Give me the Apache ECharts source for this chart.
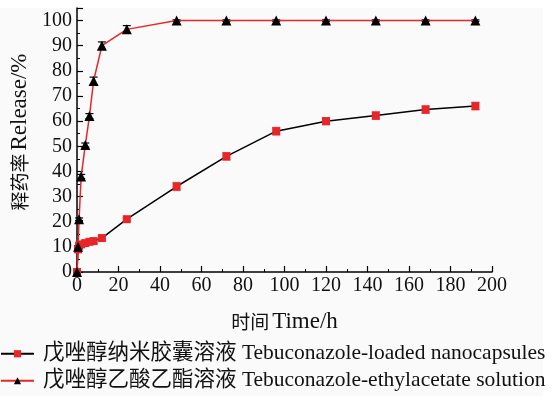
<!DOCTYPE html>
<html><head><meta charset="utf-8">
<script src="https://cdn.jsdelivr.net/npm/echarts@6/dist/echarts.min.js"></script>
<style>html,body{margin:0;padding:0;background:#fff}#c{width:560px;height:396px}</style>
</head><body><div id="c"></div>
<script>
const timeNano = [0, 0.5, 1, 2, 4, 6, 8, 12, 24, 48, 72, 96, 120, 144, 168, 192];
const releaseNano = [0, 9, 10.5, 11, 11.5, 12, 12.3, 13.5, 21, 34, 46, 56, 60, 62.2, 64.6, 66];
const errNano = [0.3, 0.8, 0.8, 0.8, 0.8, 0.8, 0.8, 0.8, 0.8, 1.6, 1.5, 1.5, 1.4, 1.5, 1.5, 1.5];
const timeEthyl = [0, 0.5, 1, 2, 4, 6, 8, 12, 24, 48, 72, 96, 120, 144, 168, 192];
const releaseEthyl = [0, 10, 21, 38, 50.5, 62, 76, 90, 96.5, 100, 100, 100, 100, 100, 100, 100];
const errEthyl = [0, 0.5, 0.5, 0.8, 0.8, 1.0, 1.5, 1.5, 1.5, 0.3, 0.3, 0.3, 0.3, 0.3, 0.3, 0.3];
const xTicks = [0, 20, 40, 60, 80, 100, 120, 140, 160, 180, 200];
const yTicks = [0, 10, 20, 30, 40, 50, 60, 70, 80, 90, 100];
const nameNano = '戊唑醇纳米胶囊溶液 Tebuconazole-loaded nanocapsules';
const nameEthyl = '戊唑醇乙酸乙酯溶液 Tebuconazole-ethylacetate solution';
const xName = ['时间', 'Time/h'];
const yName = ['释药率', 'Release/%'];

const FONT = "'Liberation Serif', 'Noto Sans CJK SC', serif";
const CJK = "'Noto Sans CJK SC', serif";
const RED = '#e8262a';
function errSeries(xs, ys, es, color) {
  return {
    type: 'custom', silent: true, z: 3,
    data: xs.map((x, i) => [x, ys[i] - es[i], ys[i] + es[i]]),
    renderItem: function (params, api) {
      const lo = api.coord([api.value(0), api.value(1)]);
      const hi = api.coord([api.value(0), api.value(2)]);
      const w = 4;
      const st = { stroke: color, lineWidth: 1.2 };
      return { type: 'group', children: [
        { type: 'line', shape: { x1: lo[0], y1: lo[1], x2: hi[0], y2: hi[1] }, style: st },
        { type: 'line', shape: { x1: lo[0] - w, y1: lo[1], x2: lo[0] + w, y2: lo[1] }, style: st },
        { type: 'line', shape: { x1: hi[0] - w, y1: hi[1], x2: hi[0] + w, y2: hi[1] }, style: st }
      ]};
    }
  };
}
const nameRich = {
  c: { fontFamily: CJK, fontSize: 19, color: '#111' },
  l: { fontFamily: FONT, fontSize: 23, color: '#111' }
};
const legendCommon = {
  orient: 'vertical', left: 0, itemWidth: 33, itemHeight: 9, padding: 0,
  textStyle: { fontFamily: FONT, fontSize: 21.5, color: '#111', padding: [0, 0, 0, 4] }
};
const chart = echarts.init(document.getElementById('c'));
chart.setOption({
  backgroundColor: '#fff',
  animation: false,
  graphic: [{ type: 'rect', shape: { x: 0, y: 8, width: 543, height: 388 }, style: { fill: '#fafafa' }, z: -10 }],
  textStyle: { fontFamily: FONT },
  grid: { left: 77, right: 68, top: 8, bottom: 124, containLabel: false, outerBoundsMode: 'none' },
  legend: [
    Object.assign({}, legendCommon, { top: 343, data: [nameNano] }),
    Object.assign({}, legendCommon, { top: 370, data: [nameEthyl] })
  ],
  xAxis: {
    type: 'value', min: xTicks[0], max: xTicks[xTicks.length - 1], interval: 20,
    name: '{c|' + xName[0] + '} {l|' + xName[1] + '}', nameLocation: 'middle', nameGap: 38,
    nameTextStyle: { rich: nameRich },
    axisLine: { lineStyle: { color: '#000', width: 1.5 } },
    axisTick: { inside: true, length: 6, lineStyle: { color: '#000', width: 1.2 } },
    minorTick: { show: true, splitNumber: 2, length: 3, lineStyle: { color: '#000', width: 1 } },
    axisLabel: { fontFamily: FONT, fontSize: 20, color: '#111', margin: 4 },
    splitLine: { show: false }
  },
  yAxis: {
    type: 'value', min: 0, max: 105, interval: 10,
    name: '{c|' + yName[0] + '} {l|' + yName[1] + '}', nameLocation: 'middle', nameGap: 44,
    nameTextStyle: { rich: nameRich, padding: [0, 0, 0, 16] },
    axisLine: { show: true, lineStyle: { color: '#000', width: 1.5 } },
    axisTick: { inside: true, length: 6, lineStyle: { color: '#000', width: 1.2 } },
    minorTick: { show: true, splitNumber: 2, length: 3, lineStyle: { color: '#000', width: 1 } },
    axisLabel: { fontFamily: FONT, fontSize: 20, color: '#111', margin: 5,
      formatter: v => (yTicks.indexOf(v) >= 0 ? String(v) : '') },
    splitLine: { show: false }
  },
  series: [
    {
      name: nameNano, type: 'line', z: 4,
      data: timeNano.map((x, i) => [x, releaseNano[i]]),
      symbol: 'rect', symbolSize: 8,
      lineStyle: { color: '#000', width: 1.5 },
      itemStyle: { color: RED, borderWidth: 0 }
    },
    {
      name: nameEthyl, type: 'line', z: 4,
      data: timeEthyl.map((x, i) => [x, releaseEthyl[i]]),
      symbol: 'triangle', symbolSize: 10,
      lineStyle: { color: RED, width: 1.5 },
      itemStyle: { color: '#000', borderWidth: 0 }
    },
    errSeries(timeNano, releaseNano, errNano, '#f05a5e'),
    errSeries(timeEthyl, releaseEthyl, errEthyl, '#000')
  ]
});
</script></body></html>
